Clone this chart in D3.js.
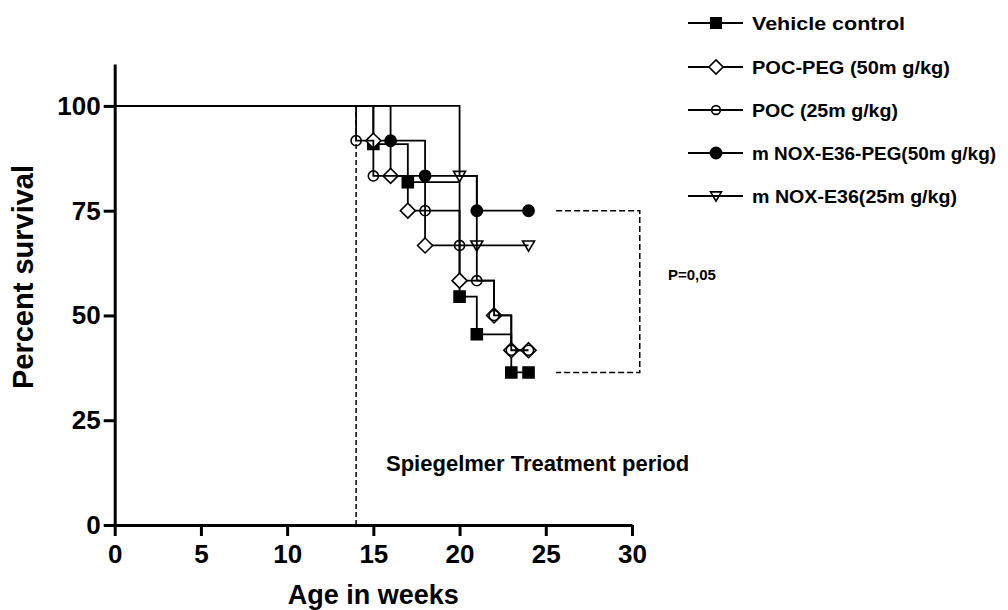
<!DOCTYPE html>
<html>
<head>
<meta charset="utf-8">
<script src="https://cdn.jsdelivr.net/npm/d3@7"></script>
<style>
  body { margin: 0; background: #fff; }
  svg { display: block; font-family: "Liberation Sans", Arial, sans-serif; font-weight: bold; }
  .axis path, .axis line { stroke: #000; stroke-width: 3; }
  .axis text { font-size: 26px; font-weight: bold; fill: #000; font-family: "Liberation Sans", Arial, sans-serif; }
</style>
</head>
<body>
<div id="chart"></div>
<script>
// Kaplan-Meier curves (weeks, % surviving)
const seriesNames = ['Vehicle control', 'POC-PEG (50m g/kg)', 'POC (25m g/kg)', 'm NOX-E36-PEG(50m g/kg)', 'm NOX-E36(25m g/kg)']
const vehicleWeeks = [0, 15, 17, 20, 21, 23, 24]
const vehicleSurv = [100, 90.9, 81.8, 54.5, 45.5, 36.4, 36.4]
const pocPegWeeks = [0, 15, 16, 17, 18, 20, 22, 23, 24]
const pocPegSurv = [100, 91.7, 83.3, 75, 66.7, 58.3, 50, 41.7, 41.7]
const pocWeeks = [0, 14, 15, 18, 20, 21, 22, 23, 24]
const pocSurv = [100, 91.7, 83.3, 75, 66.7, 58.3, 50, 41.7, 41.7]
const noxPegWeeks = [0, 16, 18, 21, 24]
const noxPegSurv = [100, 91.7, 83.3, 75, 75]
const noxWeeks = [0, 20, 21, 24]
const noxSurv = [100, 83.3, 66.7, 66.7]

const xTicks = [0, 5, 10, 15, 20, 25, 30]
const yTicks = [0, 25, 50, 75, 100]
const treatmentStart = 14
const bracketWeeks = [25.6, 30.45]
const bracketSurv = [75, 36.4]
const pLabel = 'P=0,05'
const periodLabel = 'Spiegelmer Treatment period'

const width = 1008
const height = 610

const svg = d3.select('#chart')
  .append('svg')
  .attr('width', width)
  .attr('height', height)

const x = d3.scaleLinear().domain([0, 30]).range([114.7, 632])
const y = d3.scaleLinear().domain([0, 110]).range([525, 64])

// Axes
svg.append('g')
  .attr('class', 'axis')
  .attr('transform', `translate(0, ${y(0)})`)
  .call(d3.axisBottom(x).tickValues(xTicks).tickSize(11).tickSizeOuter(0).tickPadding(9))

svg.append('g')
  .attr('class', 'axis')
  .attr('transform', `translate(${x(0)}, 0)`)
  .call(d3.axisLeft(y).tickValues(yTicks).tickSize(11).tickSizeOuter(0).tickPadding(3))

// Axis titles
svg.append('text')
  .text('Age in weeks')
  .attr('x', (x(0) + x(30)) / 2)
  .attr('y', 604)
  .attr('text-anchor', 'middle')
  .style('font-size', '27px')

svg.append('text')
  .text('Percent survival')
  .attr('transform', `translate(33, 277) rotate(-90)`)
  .attr('text-anchor', 'middle')
  .style('font-size', '29px')

// Treatment start line
svg.append('line')
  .attr('x1', x(treatmentStart)).attr('x2', x(treatmentStart))
  .attr('y1', y(0)).attr('y2', y(100))
  .attr('stroke', '#000')
  .attr('stroke-width', 1.5)
  .attr('stroke-dasharray', '5,3')

svg.append('text')
  .text(periodLabel)
  .attr('x', 386)
  .attr('y', 471)
  .style('font-size', '22px')

// P-value bracket
const bracket = [
  [bracketWeeks[0], bracketSurv[0]],
  [bracketWeeks[1], bracketSurv[0]],
  [bracketWeeks[1], bracketSurv[1]],
  [bracketWeeks[0], bracketSurv[1]]
]
svg.append('path')
  .attr('d', d3.line().x(d => x(d[0])).y(d => y(d[1]))(bracket))
  .attr('fill', 'none')
  .attr('stroke', '#000')
  .attr('stroke-width', 1.5)
  .attr('stroke-dasharray', '6,3')

svg.append('text')
  .text(pLabel)
  .attr('x', 668)
  .attr('y', 280)
  .style('font-size', '15px')

// Marker shapes
const diamond = { draw (ctx, size) { const r = Math.sqrt(size) / 2; ctx.moveTo(0, -r); ctx.lineTo(r, 0); ctx.lineTo(0, r); ctx.lineTo(-r, 0); ctx.closePath() } }
const downTriangle = { draw (ctx, size) { const w = Math.sqrt(size) / 2; ctx.moveTo(-w, -w * 0.75); ctx.lineTo(w, -w * 0.75); ctx.lineTo(0, w * 0.95); ctx.closePath() } }

const markers = [
  { type: d3.symbolSquare, size: 121, legendSize: 110, fill: '#000' },
  { type: diamond, size: 225, legendSize: 200, fill: '#fff' },
  { type: d3.symbolCircle, size: 80, legendSize: 60, fill: 'none' },
  { type: d3.symbolCircle, size: 100, legendSize: 100, fill: '#000' },
  { type: downTriangle, size: 144, legendSize: 121, fill: 'none' }
]

const series = [
  { weeks: vehicleWeeks, surv: vehicleSurv },
  { weeks: pocPegWeeks, surv: pocPegSurv },
  { weeks: pocWeeks, surv: pocSurv },
  { weeks: noxPegWeeks, surv: noxPegSurv },
  { weeks: noxWeeks, surv: noxSurv }
]

const stepLine = d3.line()
  .curve(d3.curveStepAfter)
  .x(d => x(d[0]))
  .y(d => y(d[1]))

function drawMarker (g, m, cx, cy, size) {
  g.append('path')
    .attr('d', d3.symbol().type(m.type).size(size)())
    .attr('transform', `translate(${cx}, ${cy})`)
    .attr('fill', m.fill)
    .attr('stroke', '#000')
    .attr('stroke-width', 1.6)
}

series.forEach((s, i) => {
  const pts = s.weeks.map((w, j) => [w, s.surv[j]])
  const g = svg.append('g')
  g.append('path')
    .attr('d', stepLine(pts))
    .attr('fill', 'none')
    .attr('stroke', '#000')
    .attr('stroke-width', 1.8)
  pts.slice(1).forEach(d => drawMarker(g, markers[i], x(d[0]), y(d[1]), markers[i].size))
})

// Legend
const legendRows = [23, 67, 110, 153, 196]
const legendWidths = [153, 198, 146, 244, 205]
seriesNames.forEach((name, i) => {
  const g = svg.append('g')
  g.append('line')
    .attr('x1', 688).attr('x2', 743)
    .attr('y1', legendRows[i]).attr('y2', legendRows[i])
    .attr('stroke', '#000')
    .attr('stroke-width', 1.8)
  drawMarker(g, markers[i], 716, legendRows[i], markers[i].legendSize)
  g.append('text')
    .text(name)
    .attr('x', 752)
    .attr('y', legendRows[i] + 7)
    .attr('textLength', legendWidths[i])
    .attr('lengthAdjust', 'spacingAndGlyphs')
    .style('font-size', '19px')
})
</script>
</body>
</html>
